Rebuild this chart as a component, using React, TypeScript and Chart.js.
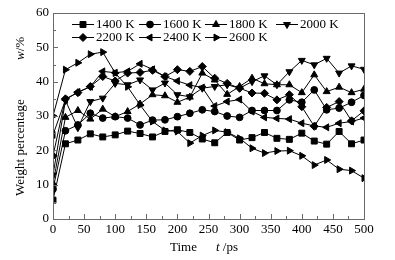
import React, { useEffect, useRef } from "react";
import { Chart, registerables } from "chart.js";
import { drawPoint } from "chart.js/helpers";

Chart.register(...registerables);

const FONT = "'Liberation Serif', 'Times New Roman', serif";

const times = [0, 20, 40, 60, 80, 100, 120, 140, 160, 180, 200, 220, 240, 260, 280, 300, 320, 340, 360, 380, 400, 420, 440, 460, 480, 500];

const seriesLabels = ["1400 K", "1600 K", "1800 K", "2000 K", "2200 K", "2400 K", "2600 K"];

const w1400 = [5.5, 21.9, 23.0, 24.8, 23.9, 24.5, 25.6, 24.9, 23.9, 25.5, 26.0, 25.2, 23.3, 22.2, 25.2, 23.0, 23.7, 25.2, 23.5, 23.2, 25.0, 22.7, 21.8, 25.5, 21.9, 23.0];
const w1600 = [8.7, 25.7, 27.4, 30.8, 29.4, 29.8, 29.4, 27.4, 28.8, 28.9, 29.8, 30.8, 31.8, 31.3, 30.0, 29.6, 31.6, 31.6, 31.6, 34.7, 34.0, 37.6, 31.8, 32.3, 34.0, 36.0];
const w1800 = [10.4, 29.6, 31.6, 29.1, 32.0, 29.8, 31.3, 33.5, 36.2, 35.9, 34.0, 35.5, 42.5, 40.5, 36.3, 38.6, 41.0, 39.4, 39.1, 39.1, 36.8, 42.0, 37.1, 38.4, 36.8, 37.8];
const w2000 = [12.8, 34.5, 26.6, 34.2, 35.2, 39.5, 39.1, 40.5, 37.6, 39.6, 36.2, 35.6, 38.1, 38.6, 39.1, 38.1, 40.0, 41.7, 39.1, 42.9, 46.2, 44.9, 46.8, 42.5, 44.6, 43.6];
const w2200 = [18.4, 35.0, 36.8, 38.6, 41.5, 40.2, 42.5, 42.7, 43.3, 41.5, 43.5, 43.0, 44.4, 41.0, 39.5, 38.1, 36.7, 36.6, 34.7, 36.2, 32.7, 27.0, 32.5, 34.2, 28.6, 31.5];
const w2400 = [24.5, 34.7, 37.0, 38.5, 43.0, 42.6, 43.0, 45.2, 43.6, 41.5, 40.2, 39.0, 38.3, 32.9, 34.2, 34.8, 31.3, 29.6, 29.3, 29.1, 27.9, 27.1, 26.7, 27.9, 28.4, 29.4];
const w2600 = [30.0, 43.5, 45.5, 48.0, 48.6, 42.5, 38.5, 33.2, 28.4, 25.8, 25.5, 22.1, 24.3, 25.8, 25.3, 23.5, 20.6, 19.2, 19.8, 19.9, 18.4, 15.7, 17.2, 14.5, 14.1, 11.9];

const allSeries = [w1400, w1600, w1800, w2000, w2200, w2400, w2600];

const markerStyles = [
  { pointStyle: "rect", rotation: 0, radius: 4.2 },
  { pointStyle: "circle", rotation: 0, radius: 3.4 },
  { pointStyle: "triangle", rotation: 0, radius: 4 },
  { pointStyle: "triangle", rotation: 180, radius: 4 },
  { pointStyle: "rectRot", rotation: 0, radius: 4 },
  { pointStyle: "triangle", rotation: 270, radius: 4 },
  { pointStyle: "triangle", rotation: 90, radius: 4 },
];

const legendCols = [83, 150, 216, 287];
const legendRows = [24.5, 37.5];

const decorPlugin = {
  id: "decor",
  afterDraw(chart: any) {
    const ctx = chart.ctx;
    const area = chart.chartArea;
    const xs = chart.scales.x;
    const ys = chart.scales.y;
    ctx.save();
    // frame
    ctx.strokeStyle = "#6a6a6a";
    ctx.lineWidth = 1;
    ctx.strokeRect(Math.round(area.left) + 0.5, Math.round(area.top) + 0.5, Math.round(area.right - area.left), Math.round(area.bottom - area.top));
    // inward ticks
    ctx.beginPath();
    for (let v = 0; v <= 500; v += 25) {
      const px = Math.round(xs.getPixelForValue(v)) + 0.5;
      const len = v % 50 === 0 ? 5 : 3;
      ctx.moveTo(px, area.bottom);
      ctx.lineTo(px, area.bottom - len);
    }
    for (let v = 0; v <= 60; v += 5) {
      const py = Math.round(ys.getPixelForValue(v)) + 0.5;
      const len = v % 10 === 0 ? 5 : 3;
      ctx.moveTo(area.left, py);
      ctx.lineTo(area.left + len, py);
    }
    ctx.stroke();

    // legend
    ctx.fillStyle = "#000";
    ctx.strokeStyle = "#000";
    ctx.font = `13px ${FONT}`;
    ctx.textBaseline = "middle";
    ctx.textAlign = "left";
    chart.data.datasets.forEach((ds: any, i: number) => {
      const col = i < 4 ? i : i - 4;
      const row = i < 4 ? 0 : 1;
      const mx = legendCols[col];
      const my = legendRows[row];
      ctx.beginPath();
      ctx.lineWidth = 1;
      ctx.moveTo(mx - 11, my);
      ctx.lineTo(mx + 11, my);
      ctx.stroke();
      const m = markerStyles[i];
      drawPoint(ctx, { pointStyle: m.pointStyle as any, rotation: m.rotation, radius: m.radius, borderWidth: 1 } as any, mx, my);
      ctx.fillText(ds.label, mx + 13, my + 0.5);
    });

    // axis titles
    ctx.fillStyle = "#000";
    ctx.font = `13px ${FONT}`;
    ctx.textBaseline = "alphabetic";
    ctx.fillText("Time", 170, 251);
    ctx.font = `italic 13px ${FONT}`;
    ctx.fillText("t", 216, 251);
    const tw = ctx.measureText("t").width;
    ctx.font = `13px ${FONT}`;
    ctx.fillText(" /ps", 216 + tw, 251);

    ctx.translate(24, 196);
    ctx.rotate(-Math.PI / 2);
    ctx.textBaseline = "alphabetic";
    ctx.fillText("Weight percentage", 0, 0);
    ctx.font = `italic 13px ${FONT}`;
    ctx.fillText("w", 136, 0);
    const ww = ctx.measureText("w").width;
    ctx.font = `13px ${FONT}`;
    ctx.fillText("/%", 136 + ww, 0);
    ctx.restore();
  },
};

export default function App() {
  const ref = useRef<HTMLCanvasElement | null>(null);
  useEffect(() => {
    if (!ref.current) return;
    const datasets = allSeries.map((vals, i) => ({
      label: seriesLabels[i],
      data: times.map((t, j) => ({ x: t, y: vals[j] })),
      borderColor: "#000",
      backgroundColor: "#000",
      borderWidth: 1,
      pointStyle: markerStyles[i].pointStyle as any,
      rotation: markerStyles[i].rotation,
      pointRotation: markerStyles[i].rotation,
      pointRadius: markerStyles[i].radius,
      pointBorderWidth: 1,
      pointBackgroundColor: "#000",
      pointBorderColor: "#000",
      tension: 0,
      fill: false,
    }));
    const chart = new Chart(ref.current, {
      type: "line",
      data: { datasets },
      options: {
        animation: false,
        responsive: false,
        maintainAspectRatio: false,
        devicePixelRatio: 1,
        layout: { padding: { left: 0, top: 13, right: 31, bottom: 0 } },
        plugins: { legend: { display: false }, tooltip: { enabled: false }, title: { display: false } },
        scales: {
          x: {
            type: "linear",
            min: 0,
            max: 500,
            grid: { display: false, drawTicks: false },
            border: { display: false },
            ticks: { stepSize: 50, color: "#000", padding: 3, font: { family: FONT, size: 13 }, maxRotation: 0 },
            afterFit(scale: any) { scale.height = 41; },
          },
          y: {
            type: "linear",
            min: 0,
            max: 60,
            grid: { display: false, drawTicks: false },
            border: { display: false },
            ticks: { stepSize: 10, color: "#000", padding: 4, font: { family: FONT, size: 13 } },
            afterFit(scale: any) { scale.width = 53; },
          },
        },
      },
      plugins: [decorPlugin],
    });
    return () => chart.destroy();
  }, []);
  return (
    <div style={{ position: "fixed", left: 0, top: 0, width: 395, height: 260, background: "#fff" }}>
      <canvas ref={ref} width={395} height={260} style={{ width: 395, height: 260 }} />
    </div>
  );
}
